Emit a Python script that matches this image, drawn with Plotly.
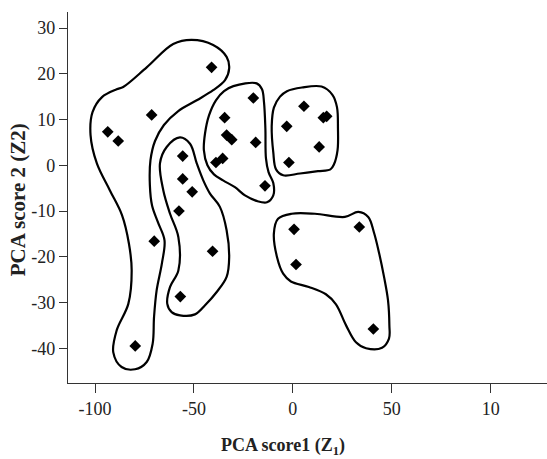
import plotly.graph_objects as go

# ---- PCA scores ----
pc1 = [-41.1, -71.4, -93.6, -88.3, -70.1, -79.7,
       -55.7, -55.7, -50.9, -57.6, -40.6, -56.9,
       -34.5, -20.0, -33.5, -30.9, -18.8, -38.9, -35.5, -14.1,
       5.6, -3.1, 15.4, 17.1, 13.3, -2.0,
       0.6, 33.6, 1.6, 40.7]
pc2 = [21.4, 11.0, 7.3, 5.3, -16.6, -39.5,
       2.0, -3.0, -5.8, -10.0, -18.8, -28.7,
       10.4, 14.7, 6.6, 5.6, 5.0, 0.6, 1.5, -4.5,
       12.9, 8.5, 10.4, 10.7, 4.0, 0.6,
       -14.0, -13.5, -21.7, -35.8]

# ---- cluster outlines (hand-drawn envelopes, data units) ----
groupA_x = [-51.2, -40.3, -33.5, -32.2, -34.3, -40.3, -48.6, -58.1, -65.2, -69.7, -72.0, -72.3,
            -71.2, -68.2, -64.9, -66.2, -68.9, -70.2, -70.9, -73.9, -79.8, -86.6, -90.8, -89.1,
            -83.2, -81.5, -82.9, -86.4, -92.5, -99.1, -102.3, -101.3, -96.5, -89.1, -85.8, -73.9, -60.5]
groupA_y = [27.4, 26.3, 23.7, 21.2, 18.6, 16.4, 14.2, 11.8, 8.8, 5.3, 1.1, -4.4,
            -8.8, -12.5, -16.4, -21.4, -27.4, -33.2, -39.0, -43.0, -44.6, -44.1, -40.9, -36.1,
            -30.3, -23.0, -17.1, -10.9, -5.5, 0.4, 6.6, 11.6, 14.9, 16.6, 17.1, 21.4, 26.5]

groupB_x = [-57.1, -52.0, -48.6, -45.3, -41.9, -36.9, -33.5, -32.2, -33.5, -38.5, -44.4, -49.5,
            -57.1, -61.3, -63.5, -62.1, -57.9, -57.9, -62.1, -65.5, -67.2, -63.8]
groupB_y = [6.1, 4.7, 0.4, -3.3, -6.2, -9.1, -14.2, -20.1, -24.4, -27.7, -30.6, -32.6,
            -32.8, -32.1, -30.3, -26.6, -23.0, -15.7, -10.6, -5.5, 0.4, 4.0]

groupC_x = [-30.1, -18.3, -15.6, -14.6, -13.9, -13.6, -12.3, -9.9, -9.9, -13.1, -18.3, -24.2,
            -29.3, -35.3, -39.9, -43.2, -45.0, -44.4, -42.4, -38.9, -34.8]
groupC_y = [17.3, 17.9, 16.6, 13.8, 8.1, 1.5, -1.5, -3.9, -6.6, -8.1, -7.8, -6.6,
            -4.8, -3.3, -2.0, 0.0, 3.3, 7.0, 10.9, 14.2, 16.2]

groupD_x = [-3.0, 4.6, 14.5, 20.0, 22.3, 22.8, 22.6, 20.8, 19.0, 12.7, 3.6, -4.9, -8.5, -9.9,
            -10.7, -9.6, -6.5]
groupD_y = [16.2, 17.0, 17.2, 15.4, 12.7, 8.1, 3.3, 0.2, -0.9, -1.3, -1.8, -2.2, -0.9, 2.8,
            8.5, 12.6, 15.0]

groupE_x = [-7.5, -0.6, 11.2, 26.3, 33.1, 38.1, 41.0, 43.5, 46.1, 48.1, 48.8, 48.6, 45.1, 37.0,
            31.9, 26.9, 21.8, 16.7, 8.1, -1.0, -4.9, -8.0, -9.6]
groupE_y = [-11.7, -10.6, -10.6, -11.3, -10.2, -11.3, -14.7, -19.0, -24.4, -29.5, -35.0, -37.9,
            -39.9, -40.0, -38.7, -35.0, -30.4, -28.2, -26.6, -25.4, -23.7, -20.1, -14.9]

x_tickvals = [-100, -50, 0, 50, 100]
x_ticktext = ["-100", "-50", "0", "50", "10"]
y_tickvals = [-40, -30, -20, -10, 0, 10, 20, 30]
y_ticktext = ["-40", "-30", "-20", "-10", "0", "10", "20", "30"]

FONT = "Liberation Serif"
INK = "#222222"

fig = go.Figure()

for gx, gy in [(groupA_x, groupA_y), (groupB_x, groupB_y), (groupC_x, groupC_y),
               (groupD_x, groupD_y), (groupE_x, groupE_y)]:
    fig.add_trace(go.Scatter(
        x=gx + gx[:1], y=gy + gy[:1], mode="lines",
        line=dict(color="black", width=2.2, shape="spline", smoothing=1.0),
        hoverinfo="skip", showlegend=False))

fig.add_trace(go.Scatter(
    x=pc1, y=pc2, mode="markers",
    marker=dict(symbol="diamond", size=9, color="black", line=dict(width=0)),
    showlegend=False))

fig.update_layout(
    width=547, height=459,
    margin=dict(l=68, r=0, t=12, b=76, autoexpand=False),
    paper_bgcolor="white", plot_bgcolor="white",
    font=dict(family=FONT, size=18, color=INK),
    showlegend=False,
    xaxis=dict(range=[-113.7, 128.5], tickvals=x_tickvals, ticktext=x_ticktext,
               automargin=False,
               showgrid=False, zeroline=False, showline=True, linecolor="#333333", linewidth=1.2,
               ticks="outside", ticklen=9, tickcolor="#333333", tickwidth=1,
               tickfont=dict(family=FONT, size=18, color=INK)),
    yaxis=dict(range=[-47.6, 33.5], tickvals=y_tickvals, ticktext=y_ticktext,
               automargin=False,
               showgrid=False, zeroline=False, showline=True, linecolor="#333333", linewidth=1.2,
               ticks="outside", ticklen=8, tickcolor="#333333", tickwidth=1,
               tickfont=dict(family=FONT, size=18, color=INK)),
    annotations=[
        dict(text="<b>PCA score1 (Z<sub>1</sub>)</b>", xref="paper", yref="paper",
             x=0.449, y=-0.171, xanchor="center", yanchor="middle", showarrow=False,
             font=dict(family=FONT, size=18, color=INK)),
        dict(text="<b>PCA score 2 (Z2)</b>", xref="paper", yref="paper",
             x=-0.104, y=0.493, xanchor="center", yanchor="middle", showarrow=False,
             textangle=-90, font=dict(family=FONT, size=21, color=INK)),
    ],
)

fig.write_html("out.html",
               config={"displayModeBar": False},
               post_script="document.body.style.margin='0';document.body.style.overflow='hidden';")
